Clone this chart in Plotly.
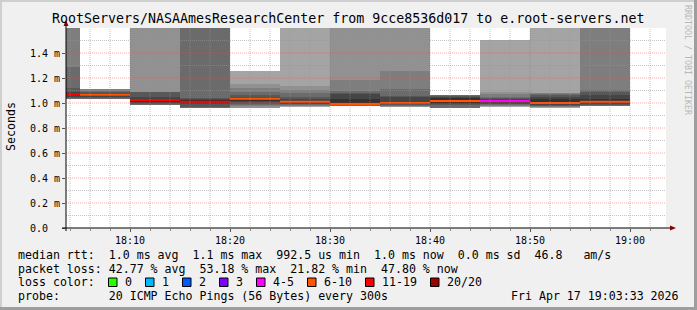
import plotly.graph_objects as go
from datetime import datetime, timedelta

# ---------------- data ----------------
day = "2026-04-17"
step_end = ["18:05", "18:10", "18:15", "18:20", "18:25", "18:30",
            "18:35", "18:40", "18:45", "18:50", "18:55", "19:00"]
step_seconds = 300

median_ms = [1.066, 1.066, 1.025, 1.010, 1.035, 1.011,
             0.9925, 1.003, 1.016, 1.016, 1.000, 1.011]
lost_pings = [11, 9, 11, 11, 8, 8, 9, 8, 9, 5, 8, 10]

# outermost smoke band drawn per step (1..10), and the sorted RTTs bounding the bands
smoke_first_band = [6, 6, 5, 7, 4, 4, 5, 5, 7, 4, 4, 6]
smoke_rtt_ms = [
    [1.030, 1.035, 1.040, 1.050, 1.060, 1.075, 1.090, 1.120, 1.290, 2.500],
    [1.030, 1.035, 1.040, 1.048, 1.055, 1.072, 1.080, 1.090, 1.100, 1.112],
    [0.984, 0.986, 0.988, 0.990, 1.000, 1.012, 1.035, 1.045, 1.088, 1.090, 1.092, 2.500],
    [0.963, 0.966, 0.990, 1.000, 1.022, 1.030, 1.040, 2.500],
    [0.957, 0.962, 0.975, 0.984, 0.995, 1.005, 1.015, 1.042, 1.050, 1.064, 1.091, 1.123, 1.149, 1.256],
    [0.971, 0.975, 0.980, 0.985, 0.990, 0.995, 1.000, 1.020, 1.030, 1.050, 1.077, 1.104, 1.139, 2.500],
    [0.975, 0.978, 0.980, 0.982, 0.985, 0.990, 1.030, 1.070, 1.080, 1.096, 1.184, 2.500],
    [0.971, 0.975, 0.980, 0.985, 0.990, 0.995, 1.020, 1.045, 1.060, 1.112, 1.256, 2.500],
    [0.963, 0.984, 0.990, 1.000, 1.040, 1.050, 1.055, 1.064],
    [0.971, 0.975, 0.980, 0.985, 0.990, 0.995, 1.005, 1.025, 1.030, 1.040, 1.050, 1.075, 1.091, 1.504],
    [0.957, 0.965, 0.970, 0.975, 0.980, 0.985, 0.990, 1.030, 1.050, 1.064, 1.075, 1.080, 1.083, 2.500],
    [0.976, 0.980, 0.985, 0.990, 1.000, 1.030, 1.064, 1.090, 1.104, 2.500],
]
pings_per_step = 20

loss_labels = ["0", "1", "2", "3", "4-5", "6-10", "11-19", "20/20"]
loss_upper = [0, 1, 2, 3, 5, 10, 19, 20]
loss_colors = ["#26ff00", "#00b8ff", "#0059ff", "#7e00ff", "#ff00ff", "#ff5500", "#ff0000", "#a00000"]

y_tickvals = [0.0, 0.2, 0.4, 0.6, 0.8, 1.0, 1.2, 1.4]
y_ticktext = ["0.0\u00a0\u00a0", "0.2 m", "0.4 m", "0.6 m", "0.8 m", "1.0 m", "1.2 m", "1.4 m"]

title_text = "RootServers/NASAAmesResearchCenter from 9cce8536d017 to e.root-servers.net"
legend_lines = [
    "median rtt:  1.0 ms avg  1.1 ms max  992.5 us min  1.0 ms now  0.0 ms sd  46.8   am/s",
    "packet loss: 42.77 % avg  53.18 % max  21.82 % min  47.80 % now",
    "loss color:",
    "probe:       20 ICMP Echo Pings (56 Bytes) every 300s",
]
stamp_text = "Fri Apr 17 19:03:33 2026"
range_start = "2026-04-17 18:03:36"
range_end = "2026-04-17 19:03:36"

# ---------------- layout constants ----------------
W, H = 697, 310
ML, MR, MT, MB = 66, 31, 28, 82
PW, PH = W - ML - MR, H - MT - MB
MONO = "DejaVu Sans Mono"


def px(x):
    return (x - ML) / PW


def py(y):
    return (MT + PH - y) / PH


def nb(s):
    return s.replace(" ", "\u00a0")


ends = [datetime.fromisoformat(f"{day} {t}:00") for t in step_end]
starts = [e - timedelta(seconds=step_seconds) for e in ends]
centers = [e - timedelta(seconds=step_seconds / 2) for e in ends]

fig = go.Figure()

# smoke bands (smokeping style: outer bands light, inner dark)
half = pings_per_step // 2
for band in range(1, half + 1):
    gray = int(190 / half * (half - band)) + 50
    color = f"rgb({gray},{gray},{gray})"
    xs, bases, heights = [], [], []
    for k, vals in enumerate(smoke_rtt_ms):
        first = smoke_first_band[k]
        if band < first:
            continue
        j = band - first
        lo, hi = vals[j], vals[len(vals) - 1 - j]
        xs.append(centers[k])
        bases.append(lo)
        heights.append(hi - lo)
    if xs:
        fig.add_trace(go.Bar(
            x=xs, y=heights, base=bases, width=[step_seconds * 1000] * len(xs),
            marker=dict(color=color, line=dict(width=0)),
            hoverinfo="skip", showlegend=False,
        ))


def loss_index(n):
    for i, u in enumerate(loss_upper):
        if n <= u:
            return i
    return len(loss_upper) - 1


# median line coloured by loss
groups = {}
for k in range(len(median_ms)):
    li = loss_index(lost_pings[k])
    gx, gy = groups.setdefault(li, ([], []))
    gx += [starts[k], ends[k], None]
    gy += [median_ms[k], median_ms[k], None]
for li, (gx, gy) in groups.items():
    fig.add_trace(go.Scatter(
        x=gx, y=gy, mode="lines",
        line=dict(color=loss_colors[li], width=2),
        hoverinfo="skip", showlegend=False,
    ))

shapes = []
# grid above the data (rrdtool style)
minor_grid = "rgba(150,150,150,0.55)"
major_grid = "rgba(235,70,70,0.45)"
dash = "1px,1px"
for i in range(1, 16):
    v = i / 10
    major = (i % 2 == 0)
    shapes.append(dict(type="line", xref="paper", yref="y", x0=0, x1=1, y0=v, y1=v,
                       line=dict(color=major_grid if major else minor_grid, width=1, dash=dash),
                       layer="above"))
t0 = datetime.fromisoformat(range_start)
t1 = datetime.fromisoformat(range_end)
t = datetime.fromisoformat(f"{day} 18:00:00")
while t <= t1:
    if t > t0:
        major = (t.minute % 10 == 0)
        shapes.append(dict(type="line", xref="x", yref="paper", x0=t, x1=t, y0=0, y1=1,
                           line=dict(color=major_grid if major else minor_grid, width=1, dash=dash),
                           layer="above"))
    t += timedelta(minutes=2)

# axes lines with arrows
shapes.append(dict(type="line", xref="paper", yref="paper", x0=px(66), x1=px(66), y0=py(231), y1=py(22),
                   line=dict(color="black", width=1), layer="above"))
shapes.append(dict(type="line", xref="paper", yref="paper", x0=px(62), x1=px(672), y0=py(228), y1=py(228),
                   line=dict(color="black", width=1), layer="above"))
shapes.append(dict(type="path", xref="paper", yref="paper",
                   path=f"M {px(63.5)} {py(26)} L {px(68.5)} {py(26)} L {px(66)} {py(20)} Z",
                   fillcolor="#8b0000", line=dict(width=0), layer="above"))
shapes.append(dict(type="path", xref="paper", yref="paper",
                   path=f"M {px(670)} {py(225.5)} L {px(670)} {py(230.5)} L {px(676)} {py(228)} Z",
                   fillcolor="#8b0000", line=dict(width=0), layer="above"))

# image border (3D shading)
shapes.append(dict(type="rect", xref="paper", yref="paper", x0=px(0), x1=px(W), y0=py(0), y1=py(2),
                   fillcolor="#cfcfcf", line=dict(width=0), layer="below"))
shapes.append(dict(type="rect", xref="paper", yref="paper", x0=px(0), x1=px(2), y0=py(0), y1=py(H),
                   fillcolor="#cfcfcf", line=dict(width=0), layer="below"))
shapes.append(dict(type="rect", xref="paper", yref="paper", x0=px(0), x1=px(W), y0=py(H - 3), y1=py(H),
                   fillcolor="#9e9e9e", line=dict(width=0), layer="below"))
shapes.append(dict(type="rect", xref="paper", yref="paper", x0=px(W - 3), x1=px(W), y0=py(0), y1=py(H),
                   fillcolor="#9e9e9e", line=dict(width=0), layer="below"))

annotations = []
legend_y = [255, 268.7, 282.3, 296]
for txt, yy in zip(legend_lines, legend_y):
    annotations.append(dict(text=nb(txt), xref="paper", yref="paper", x=px(16), y=py(yy),
                            xanchor="left", yanchor="middle", showarrow=False,
                            font=dict(family=MONO, size=11.6, color="black")))
annotations.append(dict(text=nb(stamp_text), xref="paper", yref="paper", x=px(681), y=py(legend_y[3]),
                        xanchor="right", yanchor="middle", showarrow=False,
                        font=dict(family=MONO, size=11.6, color="black")))

# loss colour boxes
bx = 108.5
for lab, col in zip(loss_labels, loss_colors):
    shapes.append(dict(type="rect", xref="paper", yref="paper",
                       x0=px(bx), x1=px(bx + 8.5), y0=py(278), y1=py(286.5),
                       fillcolor=col, line=dict(color="black", width=1), layer="above"))
    annotations.append(dict(text=nb(lab), xref="paper", yref="paper", x=px(bx + 14.5), y=py(legend_y[2]),
                            xanchor="left", yanchor="middle", showarrow=False,
                            font=dict(family=MONO, size=11.6, color="black")))
    bx += 30 + 7 * len(lab)

annotations.append(dict(text=title_text, xref="paper", yref="paper", x=px(348), y=py(18.5),
                        xanchor="center", yanchor="middle", showarrow=False,
                        font=dict(family=MONO, size=13.3, color="black")))
annotations.append(dict(text="Seconds", xref="paper", yref="paper", x=px(11), y=py(127),
                        xanchor="center", yanchor="middle", textangle=-90, showarrow=False,
                        font=dict(family=MONO, size=11.6, color="black")))
annotations.append(dict(text=nb("RRDTOOL / TOBI OETIKER"), xref="paper", yref="paper", x=px(688), y=py(60),
                        xanchor="center", yanchor="middle", textangle=90, showarrow=False,
                        font=dict(family=MONO, size=8.3, color="#b8b8b8")))

fig.update_layout(
    width=W, height=H,
    margin=dict(l=ML, r=MR, t=MT, b=MB, pad=0),
    paper_bgcolor="#f0f0f0", plot_bgcolor="white",
    barmode="overlay", bargap=0, showlegend=False,
    shapes=shapes, annotations=annotations,
    font=dict(family=MONO, size=10, color="black"),
    xaxis=dict(type="date", range=[range_start, range_end],
               tick0=f"{day} 18:10:00", dtick=600000, tickformat="%H:%M",
               ticks="outside", ticklen=3, tickcolor="#555", showgrid=False, zeroline=False,
               showline=False, tickfont=dict(family=MONO, size=10),
               minor=dict(ticks="outside", ticklen=2, dtick=120000, tick0=f"{day} 18:10:00",
                          tickcolor="#888", showgrid=False)),
    yaxis=dict(range=[0, 1.6], tickvals=y_tickvals, ticktext=y_ticktext,
               ticks="outside", ticklen=3, tickcolor="#555", showgrid=False, zeroline=False,
               showline=False, tickfont=dict(family=MONO, size=10)),
)

fig.write_html("out.html")
